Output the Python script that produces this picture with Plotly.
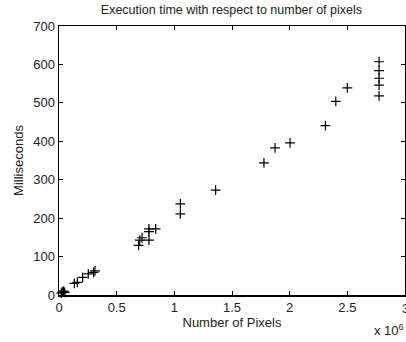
import plotly.graph_objects as go

# Data (pixels, milliseconds)
pixels = [2.775e6, 2.775e6, 2.775e6, 2.775e6, 2.775e6,
          2.50e6, 2.40e6, 2.31e6, 2.003e6, 1.873e6, 1.777e6, 1.358e6,
          1.052e6, 1.052e6, 0.838e6, 0.78e6, 0.78e6, 0.78e6, 0.72e6, 0.70e6, 0.69e6,
          0.312e6, 0.30e6, 0.254e6, 0.205e6, 0.159e6, 0.133e6,
          0.04e6, 0.03e6, 0.02e6, 0.05e6]
millis = [607, 584, 564, 546, 518,
          539, 504, 441, 396, 383, 344, 273,
          237, 211, 172, 172, 165, 143, 149, 143, 129,
          63, 59, 55, 46, 33, 30,
          10, 8, 5, 7]

x_tickvals = [0, 0.5e6, 1e6, 1.5e6, 2e6, 2.5e6]
x_ticktext = ["0", "0.5", "1", "1.5", "2", "2.5"]
x_last_tick = 3e6
x_last_label = "3"
y_tickvals = [0, 100, 200, 300, 400, 500, 600, 700]

fig = go.Figure()
fig.add_trace(go.Scatter(
    x=pixels, y=millis, mode="markers",
    marker=dict(symbol="cross-thin", size=7, line=dict(color="black", width=1.2)),
    showlegend=False, hoverinfo="skip", cliponaxis=False))

font = dict(family="Liberation Sans, Arial, sans-serif", size=13, color="#222")
axis_common = dict(showline=True, linecolor="black", linewidth=1.5, mirror="ticks",
                   ticks="inside", ticklen=4, tickcolor="black", showgrid=False,
                   zeroline=False, tickfont=font, automargin=False)

fig.update_layout(
    width=406, height=342,
    margin=dict(l=59, r=1, t=26, b=47),
    paper_bgcolor="white", plot_bgcolor="white",
    font=font,
    title=dict(text="Execution time with respect to number of pixels",
               x=0.57, xanchor="center", y=0.985, yanchor="top", automargin=False,
               font=dict(family="Liberation Sans, Arial, sans-serif", size=12.5, color="#222")),
    xaxis=dict(range=[0, 3e6], tickvals=x_tickvals, ticktext=x_ticktext,
               title=dict(text="Number of Pixels", standoff=0, font=font), **axis_common),
    yaxis=dict(range=[0, 700], tickvals=y_tickvals,
               title=dict(text="Milliseconds", standoff=6, font=font), **axis_common),
    hovermode=False,
)
# last x tick label, partly cut by the page edge as in the reference
fig.add_annotation(text=x_last_label, xref="x", yref="paper", x=x_last_tick, y=0,
                   yshift=-4, xanchor="center", yanchor="top", showarrow=False, font=font)
fig.add_annotation(text="x 10<sup>6</sup>", xref="paper", yref="paper",
                   x=1.003, y=-0.13, xanchor="right", yanchor="middle", showarrow=False,
                   font=font)

fig.write_html("out.html", config={"displayModeBar": False, "staticPlot": True},
               post_script="document.body.style.margin='0';document.body.style.overflow='hidden';")
